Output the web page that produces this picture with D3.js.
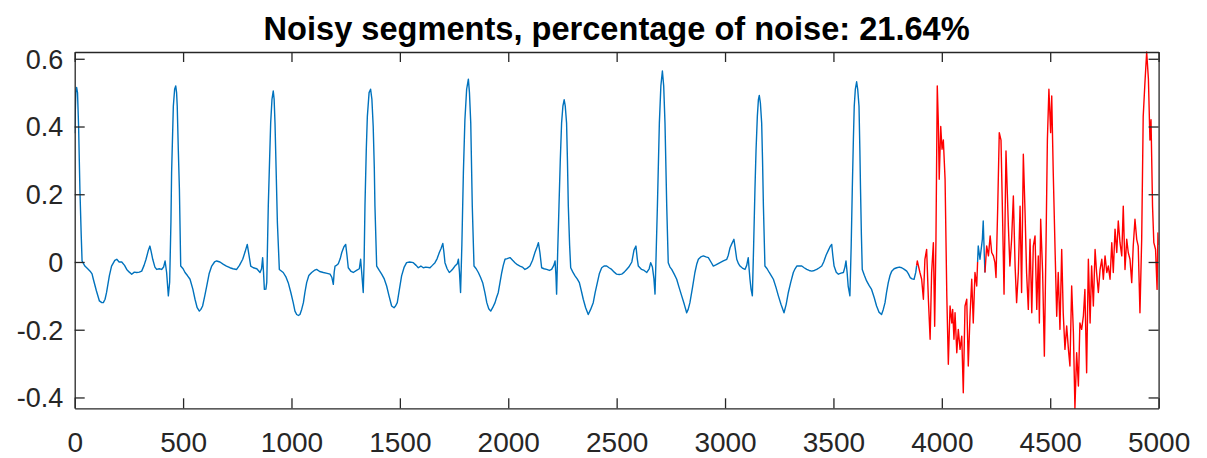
<!DOCTYPE html>
<html>
<head>
<meta charset="utf-8">
<script src="https://cdn.jsdelivr.net/npm/d3@7"></script>
<style>
  html, body { margin: 0; padding: 0; background: #fff; }
  svg { display: block; }
</style>
</head>
<body>
<svg id="chart" width="1207" height="458"></svg>
<script>
// ECG trace: [sample index, amplitude]
const cleanTrace = [
  [0,0.38],[5,0.50],[9,0.515],[13,0.50],[18,0.40],[24,0.215],[30,0.08],[34,0.003],[47,-0.012],[60,-0.02],
  [71,-0.027],[80,-0.035],[86,-0.051],[100,-0.085],[114,-0.115],[125,-0.12],[132,-0.12],[140,-0.11],[147,-0.09],[160,-0.04],
  [170,-0.012],[185,0.005],[194,0.008],[205,0.0],[217,0.0],[230,-0.01],[240,-0.022],[252,-0.03],[263,-0.036],[275,-0.03],
  [286,-0.031],[298,-0.03],[309,-0.027],[320,-0.01],[329,0.008],[340,0.035],[347,0.047],[353,0.03],[360,0.008],[370,-0.015],
  [378,-0.022],[390,-0.02],[401,-0.022],[410,-0.015],[417,0.003],[424,-0.031],[432,-0.10],[438,-0.06],[444,0.12],[447,0.264],
  [455,0.46],[461,0.51],[466,0.52],[470,0.50],[473,0.46],[478,0.33],[483,0.215],[489,-0.012],[500,-0.02],[509,-0.031],
  [520,-0.04],[532,-0.051],[545,-0.08],[555,-0.11],[565,-0.135],[575,-0.145],[582,-0.14],[590,-0.13],[600,-0.10],[609,-0.071],
  [620,-0.035],[632,-0.012],[645,0.0],[655,0.003],[670,0.0],[686,-0.007],[700,-0.012],[716,-0.017],[730,-0.02],[747,-0.022],
  [760,-0.01],[775,0.008],[786,0.03],[796,0.052],[804,0.02],[812,-0.012],[824,-0.017],[840,-0.02],[855,-0.031],[862,-0.02],
  [867,0.013],[871,-0.03],[875,-0.081],[882,-0.08],[886,-0.06],[893,0.165],[899,0.30],[904,0.41],[910,0.48],[916,0.505],
  [920,0.48],[924,0.41],[930,0.25],[935,0.116],[944,-0.022],[962,-0.031],[975,-0.045],[985,-0.061],[997,-0.09],[1008,-0.12],
  [1016,-0.145],[1024,-0.155],[1032,-0.158],[1039,-0.155],[1047,-0.14],[1055,-0.12],[1062,-0.09],[1070,-0.061],[1080,-0.04],[1093,-0.031],
  [1105,-0.025],[1116,-0.022],[1130,-0.028],[1147,-0.031],[1160,-0.033],[1178,-0.036],[1186,-0.045],[1193,-0.066],[1197,-0.03],[1201,-0.012],
  [1208,-0.01],[1216,-0.005],[1225,0.01],[1232,0.028],[1242,0.045],[1250,0.052],[1256,0.02],[1262,-0.017],[1275,-0.028],[1285,-0.031],
  [1300,-0.025],[1313,-0.02],[1319,0.008],[1325,-0.04],[1331,-0.09],[1335,0.0],[1339,0.165],[1345,0.33],[1350,0.43],[1358,0.50],
  [1365,0.51],[1371,0.48],[1377,0.40],[1382,0.28],[1385,0.165],[1393,-0.012],[1405,-0.025],[1416,-0.036],[1428,-0.05],[1439,-0.071],
  [1450,-0.10],[1462,-0.13],[1473,-0.135],[1480,-0.13],[1488,-0.12],[1498,-0.08],[1508,-0.041],[1520,-0.015],[1531,-0.002],[1545,0.0],
  [1562,-0.002],[1575,-0.01],[1585,-0.017],[1597,-0.012],[1608,-0.017],[1620,-0.015],[1639,-0.017],[1650,-0.01],[1662,-0.002],[1672,0.01],
  [1682,0.028],[1690,0.04],[1698,0.055],[1703,0.03],[1708,-0.002],[1718,-0.02],[1728,-0.031],[1738,-0.025],[1745,-0.02],[1754,-0.012],
  [1765,-0.005],[1770,0.008],[1775,-0.03],[1780,-0.09],[1786,0.05],[1793,0.264],[1800,0.42],[1808,0.51],[1816,0.54],[1821,0.50],
  [1827,0.41],[1834,0.165],[1842,-0.012],[1852,-0.02],[1862,-0.031],[1872,-0.045],[1882,-0.061],[1892,-0.09],[1901,-0.12],[1910,-0.138],
  [1919,-0.145],[1928,-0.135],[1939,-0.12],[1946,-0.105],[1954,-0.09],[1962,-0.06],[1970,-0.031],[1977,-0.01],[1985,0.008],[1995,0.01],
  [2008,0.013],[2020,0.005],[2031,-0.002],[2042,-0.008],[2054,-0.012],[2065,-0.015],[2077,-0.022],[2088,-0.018],[2100,-0.012],[2112,0.005],
  [2123,0.028],[2133,0.045],[2139,0.057],[2146,0.028],[2154,-0.017],[2165,-0.02],[2177,-0.022],[2190,-0.025],[2200,-0.022],[2210,-0.01],
  [2216,0.003],[2220,-0.04],[2223,-0.095],[2228,0.03],[2234,0.165],[2240,0.30],[2246,0.41],[2252,0.46],[2258,0.479],[2263,0.46],
  [2269,0.41],[2273,0.30],[2277,0.165],[2283,0.05],[2288,-0.017],[2298,-0.03],[2308,-0.041],[2318,-0.05],[2328,-0.061],[2337,-0.085],
  [2346,-0.11],[2357,-0.135],[2369,-0.155],[2380,-0.14],[2392,-0.12],[2401,-0.09],[2411,-0.061],[2420,-0.035],[2431,-0.017],[2442,-0.012],
  [2454,-0.012],[2465,-0.017],[2477,-0.022],[2489,-0.03],[2500,-0.036],[2512,-0.037],[2523,-0.036],[2535,-0.03],[2546,-0.022],[2556,-0.015],
  [2570,0.0],[2580,0.035],[2589,0.047],[2595,0.01],[2600,-0.012],[2615,-0.022],[2627,-0.025],[2639,-0.031],[2650,-0.02],[2657,-0.002],
  [2665,-0.015],[2672,-0.05],[2677,-0.095],[2682,0.02],[2688,0.165],[2697,0.41],[2704,0.52],[2711,0.564],[2717,0.52],[2723,0.41],
  [2731,0.165],[2738,-0.002],[2746,-0.015],[2754,-0.022],[2765,-0.035],[2777,-0.051],[2788,-0.075],[2800,-0.10],[2812,-0.125],[2823,-0.15],
  [2830,-0.14],[2838,-0.12],[2850,-0.075],[2861,-0.031],[2870,-0.005],[2877,0.008],[2888,0.015],[2900,0.018],[2912,0.015],[2923,0.013],
  [2935,0.0],[2946,-0.012],[2960,-0.008],[2977,-0.002],[2992,0.003],[3008,0.008],[3015,0.02],[3023,0.042],[3032,0.055],[3041,0.067],
  [3047,0.04],[3054,0.008],[3062,-0.005],[3069,-0.012],[3080,-0.018],[3092,-0.022],[3100,-0.01],[3107,0.013],[3111,-0.02],[3115,-0.051],
  [3120,-0.08],[3126,-0.10],[3132,0.05],[3138,0.215],[3143,0.33],[3149,0.43],[3154,0.48],[3158,0.492],[3163,0.47],[3169,0.41],
  [3173,0.30],[3177,0.165],[3184,-0.012],[3194,-0.02],[3204,-0.031],[3213,-0.04],[3223,-0.051],[3235,-0.075],[3246,-0.10],[3258,-0.125],
  [3272,-0.15],[3282,-0.125],[3292,-0.09],[3303,-0.06],[3315,-0.031],[3323,-0.02],[3331,-0.012],[3342,-0.012],[3354,-0.012],[3365,-0.017],
  [3377,-0.022],[3388,-0.025],[3400,-0.027],[3412,-0.025],[3423,-0.022],[3435,-0.017],[3446,-0.012],[3455,0.0],[3466,0.02],[3477,0.035],
  [3486,0.047],[3492,0.052],[3497,0.02],[3503,-0.012],[3513,-0.03],[3523,-0.036],[3535,-0.033],[3546,-0.031],[3553,-0.015],[3558,0.003],
  [3563,-0.03],[3568,-0.071],[3576,-0.10],[3582,0.05],[3587,0.215],[3592,0.36],[3596,0.46],[3601,0.51],[3607,0.532],[3612,0.51],
  [3618,0.46],[3622,0.33],[3625,0.215],[3629,0.08],[3633,-0.022],[3643,-0.04],[3653,-0.056],[3665,-0.07],[3676,-0.081],[3688,-0.105],
  [3699,-0.13],[3710,-0.148],[3722,-0.155],[3730,-0.14],[3738,-0.12],[3745,-0.09],[3753,-0.061],[3761,-0.04],[3769,-0.027],[3780,-0.02],
  [3792,-0.017],[3804,-0.015],[3815,-0.017],[3827,-0.022],[3838,-0.027],[3846,-0.035],[3854,-0.046],[3863,-0.05],[3872,-0.051],[3880,-0.03]
];

// first artefact-corrupted stretch
const noisyTraceA = [
  [3884,-0.01],[3887,0.003],[3899,-0.031],[3907,-0.051],[3915,-0.11],[3922,0.008],[3930,0.037],[3938,-0.11],[3946,-0.228],[3953,-0.031],
  [3961,0.057],[3967,-0.19],[3973,0.067],[3979,0.52],[3984,0.41],[3988,0.244],[3995,0.40],[4001,0.333],[4007,0.36],[4015,0.244],
  [4023,-0.10],[4030,-0.302],[4038,-0.13],[4046,-0.18],[4050,-0.14],[4056,-0.228],[4061,-0.15],[4069,-0.268],[4076,-0.199],[4084,-0.258],
  [4092,-0.219],[4099,-0.386],[4107,-0.13],[4115,-0.11],[4122,-0.307],[4130,-0.16],[4138,-0.051],[4145,-0.18],[4153,-0.031],[4161,-0.071],
  [4165,0.0]
];

// short clean stretch between the two artefacts
const bridgeTrace = [
  [4168,0.047],[4176,0.008],[4187,0.067],[4191,0.121],[4196,0.02]
];

// second artefact-corrupted stretch
const noisyTraceB = [
  [4199,-0.031],[4207,0.047],[4215,0.018],[4223,0.077],[4230,0.028],[4238,0.018],[4245,-0.002],[4250,-0.046],[4258,0.165],[4265,0.382],
  [4273,0.36],[4281,0.106],[4287,-0.095],[4296,0.328],[4307,0.106],[4314,-0.012],[4322,0.067],[4330,0.195],[4338,-0.012],[4345,-0.12],
  [4353,-0.031],[4361,0.165],[4368,-0.09],[4376,0.318],[4384,0.145],[4391,-0.031],[4399,-0.14],[4407,0.067],[4415,-0.15],[4422,0.047],
  [4430,0.077],[4438,-0.14],[4445,0.018],[4450,-0.18],[4456,0.126],[4465,-0.031],[4473,-0.278],[4481,0.067],[4487,0.362],[4494,0.51],
  [4502,0.382],[4507,0.49],[4514,0.264],[4522,0.047],[4530,-0.16],[4537,-0.031],[4545,-0.199],[4553,0.037],[4560,-0.15],[4568,-0.258],
  [4576,-0.189],[4584,-0.258],[4591,-0.307],[4599,-0.071],[4607,-0.209],[4614,-0.432],[4622,-0.268],[4630,-0.366],[4637,-0.18],[4645,-0.199],
  [4653,-0.16],[4660,-0.081],[4668,-0.327],[4676,0.008],[4684,-0.18],[4691,-0.012],[4699,-0.13],[4707,0.037],[4714,-0.031],[4722,-0.09],
  [4730,-0.022],[4738,0.008],[4745,-0.051],[4753,0.018],[4761,-0.031],[4768,-0.012],[4776,-0.051],[4784,0.057],[4791,-0.031],[4799,0.097],
  [4807,0.028],[4814,0.121],[4822,0.057],[4830,0.018],[4837,0.165],[4845,-0.022],[4853,0.067],[4860,0.028],[4868,0.008],[4876,-0.061],
  [4883,0.047],[4891,0.126],[4899,0.067],[4906,0.047],[4914,-0.15],[4922,0.067],[4929,0.43],[4937,0.53],[4945,0.620],[4953,0.54],
  [4960,0.36],[4965,0.42],[4972,0.165],[4978,0.057],[4986,0.037],[4993,-0.081],[4997,0.086],[5000,0.05]
];

const titleText = "Noisy segments, percentage of noise: 21.64%";
const xTicks = [0, 500, 1000, 1500, 2000, 2500, 3000, 3500, 4000, 4500, 5000];
const yTicks = [-0.4, -0.2, 0, 0.2, 0.4, 0.6];

const W = 1207, H = 458;
const margin = { top: 52, right: 48.4, bottom: 49.7, left: 74.7 };
const innerW = W - margin.left - margin.right;
const innerH = H - margin.top - margin.bottom;

const fullTrace = cleanTrace.concat(noisyTraceA, bridgeTrace, noisyTraceB);

// clean pieces in blue, each joined to the first/last sample of the neighbouring noisy piece
const bluePieces = [
  cleanTrace.concat([noisyTraceA[0]]),
  [noisyTraceA[noisyTraceA.length - 1]].concat(bridgeTrace, [noisyTraceB[0]])
];
const redPieces = [noisyTraceA, noisyTraceB];

const svg = d3.select("#chart");
const g = svg.append("g").attr("transform", `translate(${margin.left},${margin.top})`);

const x = d3.scaleLinear().domain([0, 5000]).range([0, innerW]);
const y = d3.scaleLinear().domain(d3.extent(fullTrace, d => d[1])).range([innerH, 0]);

const axisColor = "#262626";
const fontFam = "'Liberation Sans', Arial, Helvetica, sans-serif";

// clip traces to the axes box
svg.append("defs").append("clipPath").attr("id", "plotClip")
  .append("rect").attr("x", 0).attr("y", -1).attr("width", innerW).attr("height", innerH + 2);

const line = d3.line().x(d => x(d[0])).y(d => y(d[1]));

const traces = g.append("g").attr("clip-path", "url(#plotClip)");

function drawPieces(pieces, color) {
  pieces.forEach(seg => {
    traces.append("path")
      .datum(seg)
      .attr("fill", "none")
      .attr("stroke", color)
      .attr("stroke-width", 1.4)
      .attr("stroke-linejoin", "round")
      .attr("d", line);
  });
}
drawPieces(bluePieces, "#0072BD");
drawPieces(redPieces, "#FF0000");

// axes: ticks point inward on all four sides
const fmtY = d => (d === 0 ? "0" : d3.format(".1f")(d).replace("\u2212", "-"));

const xBottom = g.append("g").attr("transform", `translate(0,${innerH})`)
  .call(d3.axisBottom(x).tickValues(xTicks).tickSizeInner(-10).tickSizeOuter(0).tickPadding(0).tickFormat(d3.format("d")));
xBottom.selectAll("text").attr("y", 43.7).attr("dy", null);

const xTop = g.append("g")
  .call(d3.axisTop(x).tickValues(xTicks).tickSizeInner(-10).tickSizeOuter(0).tickFormat(""));

const yLeft = g.append("g")
  .call(d3.axisLeft(y).tickValues(yTicks).tickSizeInner(-10).tickSizeOuter(0).tickPadding(11.5).tickFormat(fmtY));

const yRight = g.append("g").attr("transform", `translate(${innerW},0)`)
  .call(d3.axisRight(y).tickValues(yTicks).tickSizeInner(-10).tickSizeOuter(0).tickFormat(""));

[xBottom, xTop, yLeft, yRight].forEach(a => {
  a.select(".domain").attr("stroke", axisColor).attr("stroke-width", 1.3);
  a.selectAll(".tick line").attr("stroke", axisColor).attr("stroke-width", 1.3);
  a.selectAll("text").attr("fill", axisColor).attr("font-family", fontFam);
});
xBottom.selectAll("text").attr("font-size", 28);
yLeft.selectAll("text").attr("font-size", 27).attr("dy", "0.35em");

// title
svg.append("text")
  .attr("x", margin.left + innerW / 2)
  .attr("y", 40)
  .attr("text-anchor", "middle")
  .attr("font-family", fontFam)
  .attr("font-weight", "bold")
  .attr("font-size", 32.6)
  .attr("fill", "#000")
  .text(titleText);
</script>
</body>
</html>
